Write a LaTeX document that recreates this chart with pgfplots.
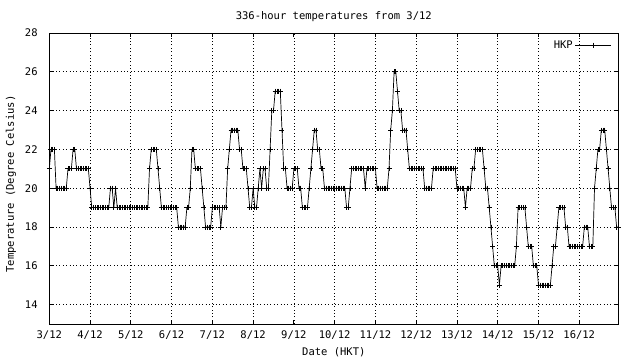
\documentclass[border=0pt]{standalone}
\usepackage{fontspec}
\setmainfont{DejaVu Sans Mono}
\usepackage{pgfplots}
\pgfplotsset{compat=1.18}
\begin{document}
\fontsize{10.5}{12.5}\selectfont
\begin{tikzpicture}
\path[use as bounding box] (-49.3pt,-36pt) rectangle (590.7pt,324pt);
\begin{axis}[
  at={(0pt,0pt)}, anchor=south west,
  scale only axis, width=569pt, height=291pt,
  xmin=0, xmax=335, ymin=13, ymax=28,
  xtick={0,24,48,72,96,120,144,168,192,216,240,264,288,312},
  xticklabels={3/12,4/12,5/12,6/12,7/12,8/12,9/12,10/12,11/12,12/12,13/12,14/12,15/12,16/12},
  ytick={14,16,18,20,22,24,26,28},
  /pgf/number format/assume math mode=true,
  grid=major,
  major grid style={black, line width=0.7pt, dash pattern=on 0.8pt off 2.6pt},
  tick align=inside, xtick pos=both, ytick pos=both,
  xticklabel pos=lower, yticklabel pos=left,
  major tick length=4pt,
  axis line style={black, line width=0.9pt},
  tick style={black, line width=0.8pt},
  xticklabel style={anchor=base, yshift=-14pt},
  yticklabel style={anchor=east, xshift=-8pt},
  title={336-hour temperatures from 3/12},
  title style={at={(0.5,1)}, anchor=base, yshift=8pt},
  xlabel={Date (HKT)},
  xlabel style={at={(axis description cs:0.5,0)}, anchor=base, yshift=-31pt},
  ylabel={Temperature (Degree Celsius)},
  ylabel style={at={(axis description cs:-0.0673,0.481)}, anchor=center},
  legend plot pos=right,
  legend style={draw=none, fill=none, at={(axis description cs:0.99,0.985)}, anchor=north east, inner sep=1pt},
  legend image code/.code={\draw[#1,mark=none] (0pt,0pt) -- (36pt,0pt); \draw[#1,only marks] plot coordinates {(18pt,0pt)};},
]
\addplot[black, line width=0.7pt, mark=+, mark size=2.5pt, mark options={line width=0.7pt}] coordinates {
(0,21)(1,22)(2,22)(3,22)(4,20)(5,20)(6,20)(7,20)(8,20)(9,20)(10,20)(11,21)
(12,21)(13,21)(14,22)(15,22)(16,21)(17,21)(18,21)(19,21)(20,21)(21,21)(22,21)(23,21)
(24,20)(25,19)(26,19)(27,19)(28,19)(29,19)(30,19)(31,19)(32,19)(33,19)(34,19)(35,19)
(36,20)(37,20)(38,19)(39,20)(40,19)(41,19)(42,19)(43,19)(44,19)(45,19)(46,19)(47,19)
(48,19)(49,19)(50,19)(51,19)(52,19)(53,19)(54,19)(55,19)(56,19)(57,19)(58,19)(59,21)
(60,22)(61,22)(62,22)(63,22)(64,21)(65,20)(66,19)(67,19)(68,19)(69,19)(70,19)(71,19)
(72,19)(73,19)(74,19)(75,19)(76,18)(77,18)(78,18)(79,18)(80,18)(81,19)(82,19)(83,20)
(84,22)(85,22)(86,21)(87,21)(88,21)(89,21)(90,20)(91,19)(92,18)(93,18)(94,18)(95,18)
(96,19)(97,19)(98,19)(99,19)(100,19)(101,18)(102,19)(103,19)(104,19)(105,21)(106,22)(107,23)
(108,23)(109,23)(110,23)(111,23)(112,22)(113,22)(114,21)(115,21)(116,21)(117,20)(118,19)(119,19)
(120,20)(121,19)(122,19)(123,20)(124,21)(125,20)(126,21)(127,21)(128,20)(129,20)(130,22)(131,24)
(132,24)(133,25)(134,25)(135,25)(136,25)(137,23)(138,21)(139,21)(140,20)(141,20)(142,20)(143,20)
(144,21)(145,21)(146,21)(147,20)(148,20)(149,19)(150,19)(151,19)(152,19)(153,20)(154,21)(155,22)
(156,23)(157,23)(158,22)(159,22)(160,21)(161,21)(162,20)(163,20)(164,20)(165,20)(166,20)(167,20)
(168,20)(169,20)(170,20)(171,20)(172,20)(173,20)(174,20)(175,19)(176,19)(177,20)(178,21)(179,21)
(180,21)(181,21)(182,21)(183,21)(184,21)(185,21)(186,20)(187,21)(188,21)(189,21)(190,21)(191,21)
(192,21)(193,20)(194,20)(195,20)(196,20)(197,20)(198,20)(199,20)(200,21)(201,23)(202,24)(203,26)
(204,26)(205,25)(206,24)(207,24)(208,23)(209,23)(210,23)(211,22)(212,21)(213,21)(214,21)(215,21)
(216,21)(217,21)(218,21)(219,21)(220,21)(221,20)(222,20)(223,20)(224,20)(225,20)(226,21)(227,21)
(228,21)(229,21)(230,21)(231,21)(232,21)(233,21)(234,21)(235,21)(236,21)(237,21)(238,21)(239,21)
(240,20)(241,20)(242,20)(243,20)(244,20)(245,19)(246,20)(247,20)(248,20)(249,21)(250,21)(251,22)
(252,22)(253,22)(254,22)(255,22)(256,21)(257,20)(258,20)(259,19)(260,18)(261,17)(262,16)(263,16)
(264,16)(265,15)(266,16)(267,16)(268,16)(269,16)(270,16)(271,16)(272,16)(273,16)(274,16)(275,17)
(276,19)(277,19)(278,19)(279,19)(280,19)(281,18)(282,17)(283,17)(284,17)(285,16)(286,16)(287,16)
(288,15)(289,15)(290,15)(291,15)(292,15)(293,15)(294,15)(295,15)(296,16)(297,17)(298,17)(299,18)
(300,19)(301,19)(302,19)(303,19)(304,18)(305,18)(306,17)(307,17)(308,17)(309,17)(310,17)(311,17)
(312,17)(313,17)(314,17)(315,18)(316,18)(317,18)(318,17)(319,17)(320,17)(321,20)(322,21)(323,22)
(324,22)(325,23)(326,23)(327,23)(328,22)(329,21)(330,20)(331,19)(332,19)(333,19)(334,18)(335,18)
};
\addlegendentry{HKP}
\end{axis}
\end{tikzpicture}
\end{document}
